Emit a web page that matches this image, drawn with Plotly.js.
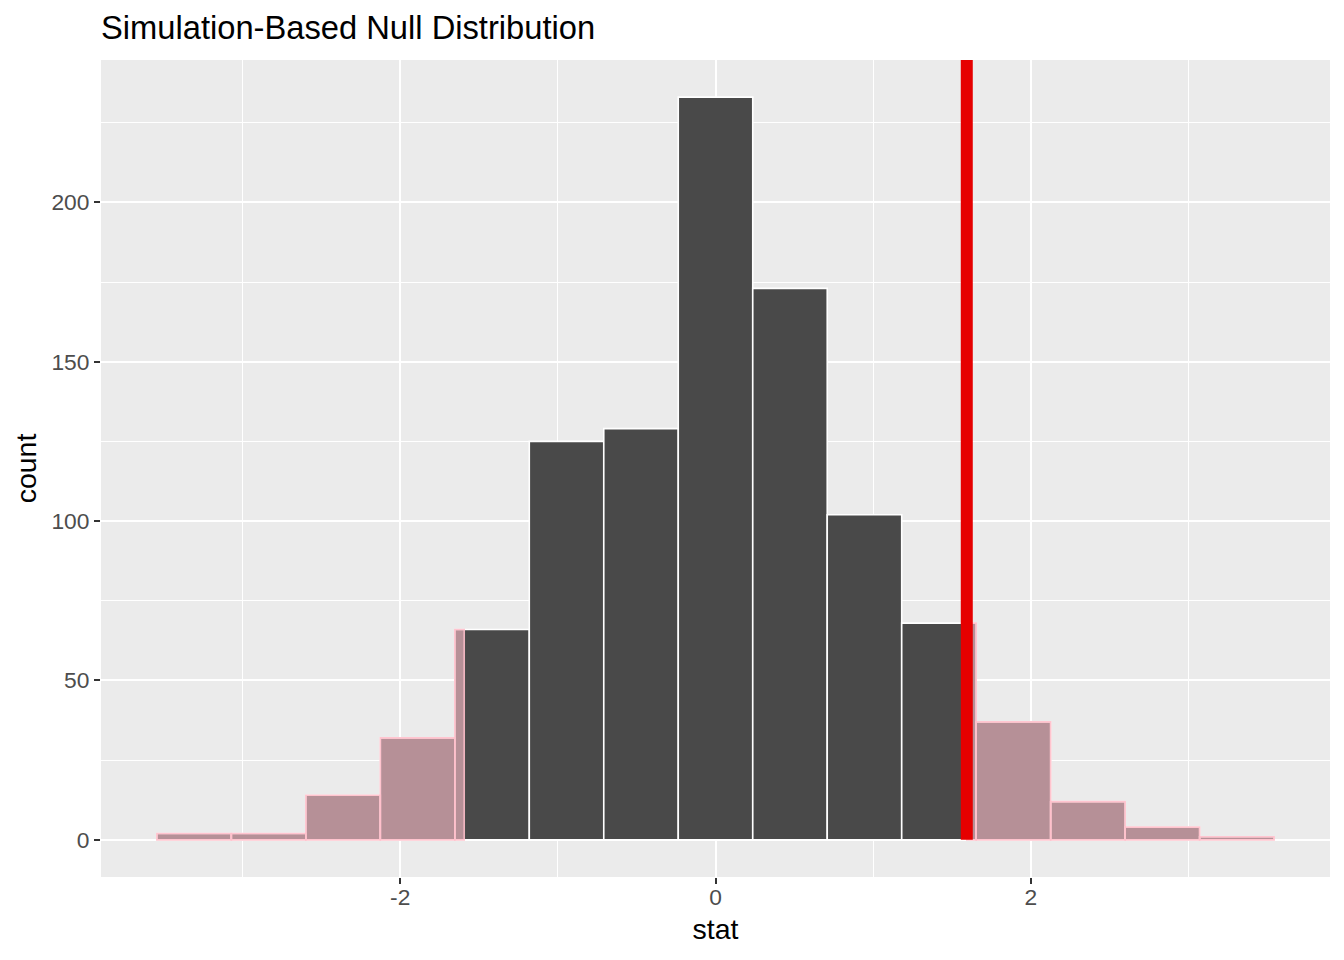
<!DOCTYPE html>
<html>
<head>
<meta charset="utf-8">
<script src="https://cdn.plot.ly/plotly-3.0.1.min.js"></script>
<style>html,body{margin:0;padding:0;background:#fff;}#chart{width:1344px;height:960px;}</style>
</head>
<body>
<div id="chart"></div>
<script>
// Histogram bins (centers) and counts
const binCenters = [-3.3075, -2.835, -2.3625, -1.89, -1.4175, -0.945, -0.4725, 0, 0.4725, 0.945, 1.4175, 1.89, 2.3625, 2.835, 3.3075];
const binWidth = 0.4725;
const counts = [2, 2, 14, 32, 66, 125, 129, 233, 173, 102, 68, 37, 12, 4, 1];
const obsStat = 1.594;
const xTickVals = [-2, 0, 2];
const xTickText = ['-2', '0', '2'];
const yTickVals = [0, 50, 100, 150, 200];
const yTickText = ['0', '50', '100', '150', '200'];

// Shaded tail pieces (two-sided): parts of bins beyond ±obsStat
const shadeX = [], shadeW = [], shadeY = [];
binCenters.forEach((c, i) => {
  const l = c - binWidth / 2, r = c + binWidth / 2;
  if (l < -obsStat) {
    const rr = Math.min(r, -obsStat);
    shadeX.push((l + rr) / 2); shadeW.push(rr - l); shadeY.push(counts[i]);
  }
  if (r > obsStat) {
    const ll = Math.max(l, obsStat);
    shadeX.push((ll + r) / 2); shadeW.push(r - ll); shadeY.push(counts[i]);
  }
});

const yMax = Math.max(...counts);
const yRange = [-0.05 * yMax, yMax * 1.05];
const xMin = binCenters[0] - binWidth / 2, xMax = binCenters[binCenters.length - 1] + binWidth / 2;
const xPad = 0.05 * (xMax - xMin);
const xRange = [xMin - xPad, xMax + xPad];

const FONT = 'Liberation Sans, Arial, Helvetica, sans-serif';

const traces = [
  {
    type: 'bar', x: binCenters, y: counts, width: binWidth,
    marker: { color: '#494949', line: { color: 'white', width: 1.6 } },
    hoverinfo: 'x+y', showlegend: false
  },
  {
    type: 'bar', x: shadeX, y: shadeY, width: shadeW,
    marker: { color: 'rgba(255,192,203,0.6)', line: { color: 'rgba(255,192,203,0.9)', width: 1.6 } },
    hoverinfo: 'x+y', showlegend: false
  }
];

const layout = {
  width: 1344, height: 960,
  margin: { l: 101, r: 14, t: 60, b: 83 },
  paper_bgcolor: 'white', plot_bgcolor: '#EBEBEB',
  barmode: 'overlay', bargap: 0,
  font: { family: FONT, color: '#4D4D4D' },
  title: {
    text: 'Simulation-Based Null Distribution',
    x: 0, xanchor: 'left', xref: 'paper',
    y: 1 - 28 / 960, yanchor: 'middle',
    font: { size: 32.7, color: 'black', family: FONT }
  },
  xaxis: {
    range: xRange, zeroline: false,
    tickmode: 'array', tickvals: xTickVals, ticktext: xTickText,
    ticks: 'outside', ticklen: 6, tickwidth: 2, tickcolor: '#333333',
    tickfont: { size: 22.8, color: '#4D4D4D' },
    ticklabelstandoff: -6,
    showgrid: true, gridcolor: 'white', gridwidth: 2,
    minor: { tickvals: [-3, -1, 1, 3], showgrid: true, gridcolor: 'white', gridwidth: 1, ticks: '' },
    showline: false,
    title: { text: 'stat', font: { size: 28.5, color: 'black' }, standoff: 9 }
  },
  yaxis: {
    range: yRange, zeroline: false,
    tickmode: 'array', tickvals: yTickVals, ticktext: yTickText,
    ticks: 'outside', ticklen: 6, tickwidth: 2, tickcolor: '#333333',
    tickfont: { size: 22.8, color: '#4D4D4D' },
    showgrid: true, gridcolor: 'white', gridwidth: 2,
    minor: { tickvals: [25, 75, 125, 175, 225], showgrid: true, gridcolor: 'white', gridwidth: 1, ticks: '' },
    showline: false,
    title: { text: 'count', font: { size: 28.5, color: 'black' }, standoff: 6 }
  },
  shapes: [
    {
      type: 'line', xref: 'x', yref: 'y',
      x0: obsStat, x1: obsStat, y0: 0, y1: yRange[1],
      line: { color: '#E60000', width: 12 }
    }
  ]
};

Plotly.newPlot('chart', traces, layout, { displayModeBar: false, staticPlot: true });
</script>
</body>
</html>
